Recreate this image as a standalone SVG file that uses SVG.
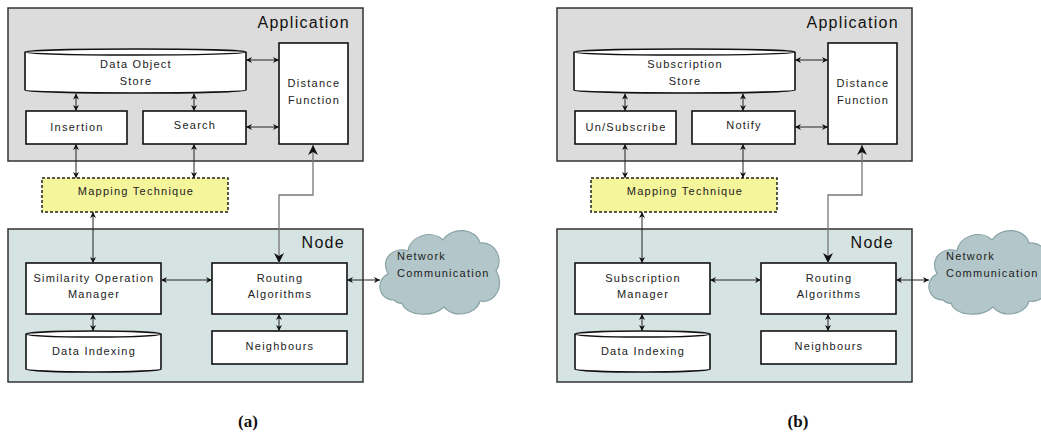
<svg xmlns="http://www.w3.org/2000/svg" width="1041" height="435" viewBox="0 0 1041 435">
<style>
.app{fill:#dcdcdc;stroke:#333;stroke-width:1.5}
.nb{fill:#d6e3e3;stroke:#333;stroke-width:1.5}
.box{fill:#fff;stroke:#111;stroke-width:1.6}
.map{fill:#f5f59b;stroke:#222;stroke-width:1.5;stroke-dasharray:3 2}
.cloud{fill:#b3c6c9;stroke:#88a3a6;stroke-width:1.2}
.t{font-family:"Liberation Sans",Arial,sans-serif;font-size:11px;letter-spacing:1.25px;fill:#222;text-anchor:middle}
.tl{text-anchor:start}
.big{font-size:16px;letter-spacing:1.3px;text-anchor:end;fill:#111}
.cap{font-family:"Liberation Serif","Times New Roman",serif;font-weight:bold;font-size:17px;fill:#111;text-anchor:middle}
.cn{stroke:#222;stroke-width:1;fill:none;marker-start:url(#ah);marker-end:url(#ah)}
.cg{stroke:#777;stroke-width:1.3;fill:none;marker-start:url(#bh);marker-end:url(#bh)}
</style>
<defs>
<marker id="ah" viewBox="0 0 10 10" refX="10" refY="5" markerWidth="6" markerHeight="6" markerUnits="userSpaceOnUse" orient="auto-start-reverse"><path d="M0,0 L10,5 L0,10 L3,5 Z" fill="#111"/></marker>
<marker id="bh" viewBox="0 0 10 10" refX="10" refY="5" markerWidth="10" markerHeight="10" markerUnits="userSpaceOnUse" orient="auto-start-reverse"><path d="M0,0 L10,5 L0,10 L3,5 Z" fill="#111"/></marker>
</defs>

<g id="panel-a">
  <g id="a-application"><rect class="app" x="8" y="8" width="355" height="153"/><text class="t big" x="350" y="28">Application</text></g>
  <g id="a-node"><rect class="nb" x="8" y="229" width="355" height="153"/><text class="t big" x="345" y="248">Node</text></g>
  <g id="a-store"><path class="box" d="M25,52 A110.5,3 0 0,1 246,52 V90 A110.5,3 0 0,1 25,90 Z"/><path d="M25,52 A110.5,3 0 0,0 246,52" fill="none" stroke="#111" stroke-width="1.4"/><text class="t" x="136" y="68">Data Object</text><text class="t" x="136" y="85">Store</text></g>
  <g id="a-distance"><rect class="box" x="279" y="43" width="69" height="101"/><text class="t" x="314" y="87">Distance</text><text class="t" x="314" y="104">Function</text></g>
  <g id="a-insertion"><rect class="box" x="26" y="111" width="101" height="33"/><text class="t" x="77" y="131">Insertion</text></g>
  <g id="a-search"><rect class="box" x="143" y="111" width="103" height="33"/><text class="t" x="195" y="129">Search</text></g>
  <g id="a-mapping"><rect class="map" x="42" y="178" width="186" height="34"/><text class="t" x="136" y="195">Mapping Technique</text></g>
  <g id="a-som"><rect class="box" x="26" y="263" width="135" height="51"/><text class="t" x="94" y="282">Similarity Operation</text><text class="t" x="94" y="298">Manager</text></g>
  <g id="a-routing"><rect class="box" x="212" y="263" width="135" height="51"/><text class="t" x="280" y="282">Routing</text><text class="t" x="280" y="298">Algorithms</text></g>
  <g id="a-indexing"><path class="box" d="M26,334 A67.5,3 0 0,1 161,334 V369 A67.5,3 0 0,1 26,369 Z"/><path d="M26,334 A67.5,3 0 0,0 161,334" fill="none" stroke="#111" stroke-width="1.4"/><text class="t" x="94" y="355">Data Indexing</text></g>
  <g id="a-neighbours"><rect class="box" x="212" y="331" width="135" height="33"/><text class="t" x="280" y="350">Neighbours</text></g>
  <g id="a-cloud"><path class="cloud" d="M394,300 C378,300 375,280 388,274 C380,258 394,246 408,251 C410,236 432,229 443,240 C452,226 476,228 480,243 C496,242 504,260 496,271 C505,284 496,304 480,301 C476,316 452,318 444,307 C432,318 406,316 402,303 C399,304 396,302 394,300 Z"/><text class="t tl" x="397" y="260">Network</text><text class="t tl" x="397" y="277">Communication</text></g>
  <g id="a-connectors">
    <line class="cn" x1="246" y1="60" x2="279" y2="60"/>
    <line class="cn" x1="246" y1="127" x2="279" y2="127"/>
    <line class="cn" x1="76" y1="93.5" x2="76" y2="111"/>
    <line class="cn" x1="194" y1="93.5" x2="194" y2="111"/>
    <line class="cn" x1="76" y1="144" x2="76" y2="178"/>
    <line class="cn" x1="194" y1="144" x2="194" y2="178"/>
    <line class="cn" x1="93" y1="212" x2="93" y2="263"/>
    <polyline class="cg" points="313,145 313,195 279,195 279,263"/>
    <line class="cn" x1="161" y1="280" x2="212" y2="280"/>
    <line class="cn" x1="347" y1="280" x2="380" y2="280"/>
    <line class="cn" x1="93" y1="314" x2="93" y2="331"/>
    <line class="cn" x1="279" y1="314" x2="279" y2="331"/>
  </g>
  <text class="cap" x="248" y="427">(a)</text>
</g>

<g id="panel-b" transform="translate(549,0)">
  <g id="b-application"><rect class="app" x="8" y="8" width="355" height="153"/><text class="t big" x="350" y="28">Application</text></g>
  <g id="b-node"><rect class="nb" x="8" y="229" width="355" height="153"/><text class="t big" x="345" y="248">Node</text></g>
  <g id="b-store"><path class="box" d="M25,52 A110.5,3 0 0,1 246,52 V90 A110.5,3 0 0,1 25,90 Z"/><path d="M25,52 A110.5,3 0 0,0 246,52" fill="none" stroke="#111" stroke-width="1.4"/><text class="t" x="136" y="68">Subscription</text><text class="t" x="136" y="85">Store</text></g>
  <g id="b-distance"><rect class="box" x="279" y="43" width="69" height="101"/><text class="t" x="314" y="87">Distance</text><text class="t" x="314" y="104">Function</text></g>
  <g id="b-unsubscribe"><rect class="box" x="26" y="111" width="101" height="33"/><text class="t" x="77" y="131">Un/Subscribe</text></g>
  <g id="b-notify"><rect class="box" x="143" y="111" width="103" height="33"/><text class="t" x="195" y="129">Notify</text></g>
  <g id="b-mapping"><rect class="map" x="42" y="178" width="186" height="34"/><text class="t" x="136" y="195">Mapping Technique</text></g>
  <g id="b-subman"><rect class="box" x="26" y="263" width="135" height="51"/><text class="t" x="94" y="282">Subscription</text><text class="t" x="94" y="298">Manager</text></g>
  <g id="b-routing"><rect class="box" x="212" y="263" width="135" height="51"/><text class="t" x="280" y="282">Routing</text><text class="t" x="280" y="298">Algorithms</text></g>
  <g id="b-indexing"><path class="box" d="M26,334 A67.5,3 0 0,1 161,334 V369 A67.5,3 0 0,1 26,369 Z"/><path d="M26,334 A67.5,3 0 0,0 161,334" fill="none" stroke="#111" stroke-width="1.4"/><text class="t" x="94" y="355">Data Indexing</text></g>
  <g id="b-neighbours"><rect class="box" x="212" y="331" width="135" height="33"/><text class="t" x="280" y="350">Neighbours</text></g>
  <g id="b-cloud"><path class="cloud" d="M394,300 C378,300 375,280 388,274 C380,258 394,246 408,251 C410,236 432,229 443,240 C452,226 476,228 480,243 C496,242 504,260 496,271 C505,284 496,304 480,301 C476,316 452,318 444,307 C432,318 406,316 402,303 C399,304 396,302 394,300 Z"/><text class="t tl" x="397" y="260">Network</text><text class="t tl" x="397" y="277">Communication</text></g>
  <g id="b-connectors">
    <line class="cn" x1="246" y1="60" x2="279" y2="60"/>
    <line class="cn" x1="246" y1="127" x2="279" y2="127"/>
    <line class="cn" x1="76" y1="93.5" x2="76" y2="111"/>
    <line class="cn" x1="194" y1="93.5" x2="194" y2="111"/>
    <line class="cn" x1="76" y1="144" x2="76" y2="178"/>
    <line class="cn" x1="194" y1="144" x2="194" y2="178"/>
    <line class="cn" x1="93" y1="212" x2="93" y2="263"/>
    <polyline class="cg" points="313,145 313,195 279,195 279,263"/>
    <line class="cn" x1="161" y1="280" x2="212" y2="280"/>
    <line class="cn" x1="347" y1="280" x2="380" y2="280"/>
    <line class="cn" x1="93" y1="314" x2="93" y2="331"/>
    <line class="cn" x1="279" y1="314" x2="279" y2="331"/>
  </g>
  <text class="cap" x="249" y="427">(b)</text>
</g>
</svg>
